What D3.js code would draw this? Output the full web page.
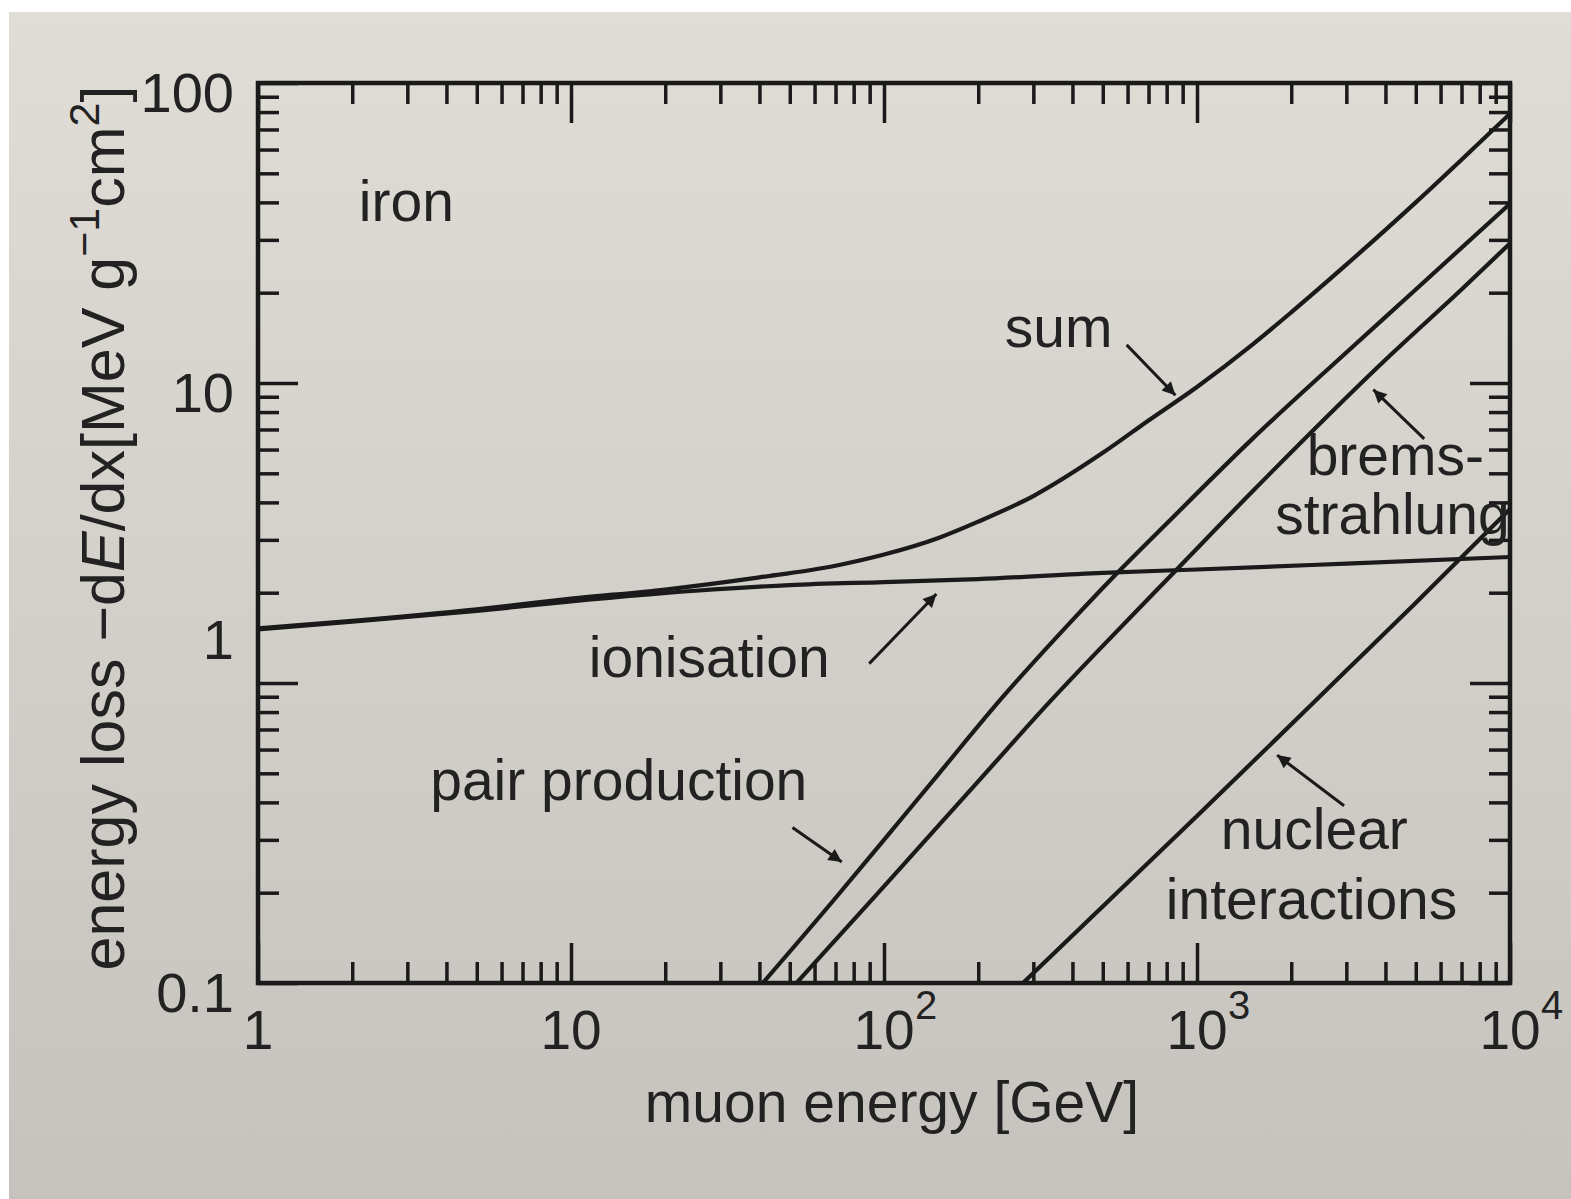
<!DOCTYPE html>
<html>
<head>
<meta charset="utf-8">
<script src="https://cdn.jsdelivr.net/npm/d3@7"></script>
<style>
  body { margin: 0; background: #fff; }
  svg text { font-family: "Liberation Sans", Arial, sans-serif; fill: #222; }
</style>
</head>
<body>
<svg width="1571" height="1199"></svg>
<script>
// muon energy [GeV] -> energy loss [MeV g^-1 cm^2] (iron)
const ionE = [1, 2, 5, 10, 25, 50, 100, 200, 500, 1000, 3000, 10000];
const ionV = [1.51, 1.6, 1.74, 1.87, 2.03, 2.12, 2.17, 2.22, 2.33, 2.39, 2.5, 2.63];

const pairE = [41, 70, 100, 150, 240, 400, 528, 800, 1500, 2940, 5000, 10000];
const pairV = [0.1, 0.192, 0.3, 0.5, 0.9, 1.62, 2.2, 3.4, 6.5, 12.4, 20.5, 39.6];

const bremsE = [52.5, 100, 200, 340, 500, 848, 1500, 4120, 7000, 10000];
const bremsV = [0.1, 0.21, 0.47, 0.87, 1.33, 2.35, 4.34, 12.3, 20.5, 29.2];

const nuclE = [278, 1000, 3000, 4920, 10000];
const nuclV = [0.1, 0.36, 1.1, 1.82, 3.8];

const sumE = [1, 2, 5, 10, 20, 40, 70, 100, 150, 200, 300, 500, 700, 1000, 1500, 2000, 3000, 5000, 7000, 10000];
const sumV = [1.52, 1.61, 1.76, 1.91, 2.05, 2.25, 2.46, 2.68, 3.05, 3.45, 4.2, 5.85, 7.5, 9.7, 13.4, 17.2, 24.8, 40, 55.5, 79];

// tick labels
const xTicks = [1, 10, 100, 1000, 10000];
const xTickBase = ["1", "10", "10", "10", "10"];
const xTickSup = ["", "", "2", "3", "4"];
const yTicks = [0.1, 1, 10, 100];
const yTickText = ["0.1", "1", "10", "100"];

// annotations, placed in data units
const labels = [
  { text: "iron", E: 2.1, v: 34.8 },
  { text: "sum", E: 243, v: 13.2 },
  { text: "brems-", E: 2240, v: 4.94 },
  { text: "strahlung", E: 1778, v: 3.13 },
  { text: "ionisation", E: 11.4, v: 1.045 },
  { text: "pair production", E: 3.55, v: 0.406 },
  { text: "nuclear", E: 1192, v: 0.279 },
  { text: "interactions", E: 795, v: 0.164 }
];
const arrows = [
  { from: [596, 13.4], to: [853, 9.1] },
  { from: [5320, 6.51], to: [3660, 9.5] },
  { from: [89.7, 1.16], to: [147, 1.98] },
  { from: [51, 0.33], to: [73.3, 0.253] },
  { from: [2950, 0.39], to: [1803, 0.575] }
];

const ink = "#1a1a1a";
const pL = 258, pR = 1510, pT = 83, pB = 983;

const svg = d3.select("svg");
const defs = svg.append("defs");

// paper
const grad = defs.append("linearGradient")
  .attr("id", "paper").attr("x1", 0).attr("y1", 0).attr("x2", 0).attr("y2", 1);
grad.append("stop").attr("offset", "0%").attr("stop-color", "#e0dcd6");
grad.append("stop").attr("offset", "100%").attr("stop-color", "#c6c3be");
svg.append("rect").attr("x", 9).attr("y", 12).attr("width", 1562).attr("height", 1187)
  .attr("fill", "url(#paper)");

const x = d3.scaleLog().domain([1, 1e4]).range([pL, pR]);
const y = d3.scaleLog().domain([0.1, 100]).range([pB, pT]);

defs.append("clipPath").attr("id", "plot")
  .append("rect").attr("x", pL).attr("y", pT)
  .attr("width", pR - pL).attr("height", pB - pT);

defs.append("marker")
  .attr("id", "head").attr("viewBox", "0 0 10 10")
  .attr("refX", 10).attr("refY", 5)
  .attr("markerWidth", 7).attr("markerHeight", 4.4)
  .attr("orient", "auto")
  .append("path").attr("d", "M0,0L10,5L0,10z").attr("fill", ink);

// ticks, all pointing inward
const xMinor = [], yMinor = [];
[1, 10, 100, 1000].forEach(d => { for (let k = 2; k < 10; k++) xMinor.push(d * k); });
[0.1, 1, 10].forEach(d => { for (let k = 2; k < 10; k++) yMinor.push(d * k); });

function tickRow(gen, values, size, tr) {
  svg.append("g").attr("transform", tr)
    .call(gen.tickValues(values).tickSize(-size).tickSizeOuter(0).tickFormat(""))
    .call(g => g.select(".domain").remove())
    .selectAll("line").attr("stroke", ink).attr("stroke-width", 3.5);
}
tickRow(d3.axisBottom(x), xMinor, 21, `translate(0,${pB})`);
tickRow(d3.axisBottom(x), xTicks, 40, `translate(0,${pB})`);
tickRow(d3.axisTop(x), xMinor, 21, `translate(0,${pT})`);
tickRow(d3.axisTop(x), xTicks, 40, `translate(0,${pT})`);
tickRow(d3.axisLeft(y), yMinor, 21, `translate(${pL},0)`);
tickRow(d3.axisLeft(y), yTicks, 40, `translate(${pL},0)`);
tickRow(d3.axisRight(y), yMinor, 21, `translate(${pR},0)`);
tickRow(d3.axisRight(y), yTicks, 40, `translate(${pR},0)`);

svg.append("rect").attr("x", pL).attr("y", pT)
  .attr("width", pR - pL).attr("height", pB - pT)
  .attr("fill", "none").attr("stroke", ink).attr("stroke-width", 4.5);

// curves
const line = d3.line().x(d => x(d[0])).y(d => y(d[1])).curve(d3.curveMonotoneX);
const series = [
  [ionE, ionV], [sumE, sumV], [pairE, pairV], [bremsE, bremsV], [nuclE, nuclV]
];
svg.append("g").attr("clip-path", "url(#plot)")
  .selectAll("path").data(series).join("path")
  .attr("d", s => line(s[0].map((e, i) => [e, s[1][i]])))
  .attr("fill", "none").attr("stroke", ink).attr("stroke-width", 4.2)
  .attr("stroke-linejoin", "round");

// tick labels
const xl = svg.append("g").attr("font-size", 55);
xl.selectAll("text.base").data(xTicks).join("text").attr("class", "base")
  .attr("x", d => x(d)).attr("y", pB + 66)
  .attr("text-anchor", "middle").text((d, i) => xTickBase[i]);
xl.selectAll("text.sup").data(xTicks).join("text").attr("class", "sup")
  .attr("x", d => x(d) + 31).attr("y", pB + 36)
  .attr("font-size", 40).text((d, i) => xTickSup[i]);

svg.append("g").attr("font-size", 56)
  .selectAll("text").data(yTicks).join("text")
  .attr("x", pL - 24)
  .attr("y", d => y(d) + (d === 1 ? -24 : 29))
  .attr("text-anchor", "end").text((d, i) => yTickText[i]);

// axis titles
svg.append("text").attr("x", (pL + pR) / 2 + 8).attr("y", 1122)
  .attr("text-anchor", "middle").attr("font-size", 57).text("muon energy [GeV]");

const yt = svg.append("text").attr("text-anchor", "middle").attr("font-size", 61)
  .attr("transform", `translate(124,${(pT + pB) / 2 - 5}) rotate(-90)`);
yt.append("tspan").text("energy loss \u2212d");
yt.append("tspan").attr("font-style", "italic").text("E");
yt.append("tspan").text("/dx[MeV g");
yt.append("tspan").attr("font-size", 43).attr("dy", -25).text("\u22121");
yt.append("tspan").attr("dy", 25).text("cm");
yt.append("tspan").attr("font-size", 43).attr("dy", -25).text("2");
yt.append("tspan").attr("dy", 25).text("]");

// annotations
svg.append("g").attr("font-size", 57)
  .selectAll("text").data(labels).join("text")
  .attr("x", d => x(d.E)).attr("y", d => y(d.v)).text(d => d.text);

svg.append("g").selectAll("line").data(arrows).join("line")
  .attr("x1", d => x(d.from[0])).attr("y1", d => y(d.from[1]))
  .attr("x2", d => x(d.to[0])).attr("y2", d => y(d.to[1]))
  .attr("stroke", ink).attr("stroke-width", 3).attr("marker-end", "url(#head)");
</script>
</body>
</html>
